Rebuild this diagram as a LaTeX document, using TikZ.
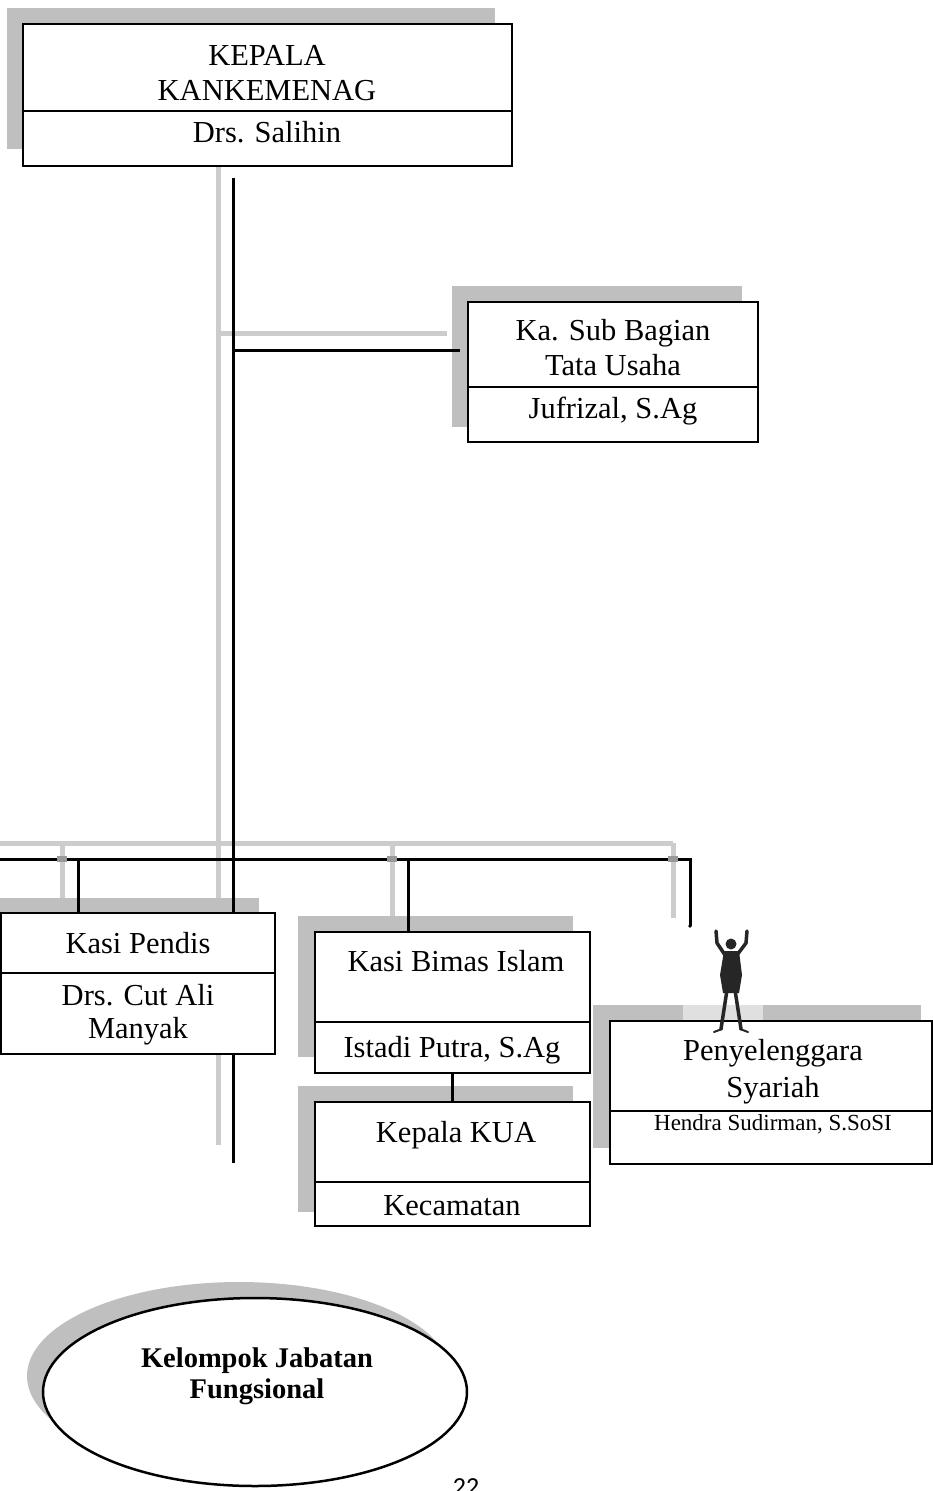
\documentclass[tikz,border=0pt]{standalone}
\usepackage{fontspec}
\setmainfont{Liberation Serif}
\newfontfamily\pagefont{Carlito}
\usetikzlibrary{shapes.geometric}
\tikzset{
  shade/.style={fill=black!25, draw=none},
  orgbox/.style={draw=black, line width=2pt, fill=white, inner sep=0pt, rectangle},
  divline/.style={line width=1.8pt},
  glink/.style={draw=black!20, line width=5pt},
  blink/.style={draw=black, line width=3pt},
  big/.style={font=\fontsize{30.5}{34}\selectfont, anchor=base, inner sep=0pt},
  smalltext/.style={font=\fontsize{23}{25}\selectfont, anchor=base, inner sep=0pt},
  boldtext/.style={font=\bfseries\fontsize{28.5}{30}\selectfont, anchor=base, inner sep=0pt},
  crossmark/.style={fill=black!40},
  figline/.style={draw=black!85, line width=3.5pt, line cap=round, line join=round},
}
\begin{document}
\begin{tikzpicture}[x=1pt,y=-1pt]
\useasboundingbox (0,0) rectangle (933,1491);
\clip (0,0) rectangle (933,1491);

% gray guide lines
\draw[glink] (218,166) -- (218,1145);
\draw[glink] (218,333) -- (447,333);
\draw[glink] (0,843) -- (673,843);
\draw[glink] (62,843) -- (62,898);
\draw[glink] (392,843) -- (392,916);
\draw[glink] (673,843) -- (673,918);
\draw[draw=black!30, line width=1pt] (473,18) -- (473,166);

% shadows
\fill[shade] (7,8) rectangle (495,149);
\fill[shade] (452,286) rectangle (742,427);
\fill[shade] (-20,898) rectangle (259,1039);
\fill[shade] (298,916) rectangle (573,1057);
\fill[shade] (298,1086) rectangle (573,1212);
\fill[shade] (593,1005) rectangle (921,1148);
\fill[black!12] (683,1005) rectangle (763,1021);
\fill[shade] (239,1376) ellipse [x radius=212, y radius=94];

% junction coordinates
\coordinate (j0) at (233,178);
\coordinate (jsub) at (233,350);
\coordinate (subin) at (460,350);
\coordinate (barL) at (-5,859);
\coordinate (barR) at (690,859);
\coordinate (jend) at (233,1163);
\coordinate (p1) at (78,859);
\coordinate (b1) at (408,859);
\coordinate (s1) at (690,926);

% boxes (nodes)
\node[orgbox, minimum width=489, minimum height=142] (kepala) at (267.5,95) {};
\node[orgbox, minimum width=290, minimum height=140] (sub) at (613,372) {};
\node[orgbox, minimum width=274, minimum height=141] (pendis) at (138,983.5) {};
\node[orgbox, minimum width=275, minimum height=141] (bimas) at (452.5,1002.5) {};
\node[orgbox, minimum width=275, minimum height=124] (kua) at (452.5,1164) {};
\node[orgbox, minimum width=322, minimum height=143] (syariah) at (771,1092.5) {};
\node[ellipse, draw=black, line width=2.5pt, fill=white, inner sep=0pt,
      minimum width=424, minimum height=188] (kjf) at (255,1392) {};

% black connectors
\draw[blink] (j0) -- (pendis.north -| j0);
\draw[blink] (pendis.south -| j0) -- (jend);
\draw[blink] (jsub) -- (subin);
\draw[blink, line join=miter] (barL) -- (barR) -- (s1);
\fill[black] (s1) circle (1.8);
\draw[blink] (p1) -- (p1 |- pendis.north);
\draw[blink] (b1) -- (b1 |- bimas.north);
\draw[blink] (bimas.south) -- (kua.north);

% crossing marks
\fill[crossmark] (57,856) rectangle (67,862);
\fill[crossmark] (387,856) rectangle (397,862);
\fill[crossmark] (668,856) rectangle (678,862);

% dividers
\draw[divline] (23,111) -- (512,111);
\draw[divline] (468,387) -- (758,387);
\draw[divline] (1,973) -- (275,973);
\draw[divline] (315,1022) -- (590,1022);
\draw[divline] (315,1182) -- (590,1182);
\draw[divline] (610,1111) -- (932,1111);

% texts
\node[big] (t1a) at (267,65) {KEPALA};
\node[big] (t1b) at (267,100) {KANKEMENAG};
\node[big] (t1c) at (267,142) {Drs. Salihin};

\node[big] (t2a) at (613,340) {Ka. Sub Bagian};
\node[big] (t2b) at (613,375) {Tata Usaha};
\node[big] (t2c) at (613,418) {Jufrizal, S.Ag};

\node[big] (t3a) at (138,953) {Kasi Pendis};
\node[big] (t3b) at (138,1005) {Drs. Cut Ali};
\node[big] (t3c) at (138,1038) {Manyak};

\node[big] (t4a) at (456,971) {Kasi Bimas Islam};
\node[big] (t4b) at (452,1057) {Istadi Putra, S.Ag};

\node[big] (t5a) at (456,1142) {Kepala KUA};
\node[big] (t5b) at (452,1215) {Kecamatan};

\node[big] (t6a) at (773,1060) {Penyelenggara};
\node[big] (t6b) at (773,1097) {Syariah};
\node[smalltext] (t6c) at (773,1130) {Hendra Sudirman, S.SoSI};

\node[boldtext] (t7a) at (257,1367) {Kelompok Jabatan};
\node[boldtext] (t7b) at (257,1398) {Fungsional};

\node[font=\pagefont\fontsize{26}{28}\selectfont, anchor=base, inner sep=0pt] (pg) at (466,1495) {22};

% stick figure
\fill[black!85] (731,944) circle (5.5);
\fill[black!85] (724,951) -- (739,951) -- (742,975) -- (739,993) -- (723,993) -- (720,975) -- cycle;
\draw[figline] (725,955) -- (717,943) -- (716,931);
\draw[figline] (737,955) -- (746,943) -- (747,931);
\draw[figline] (727,990) -- (721,1029);
\draw[figline] (735,990) -- (741,1029);
\draw[figline, line width=2pt] (714,1032) -- (722,1029);
\draw[figline, line width=2pt] (740,1029) -- (748,1032);
\end{tikzpicture}
\end{document}
